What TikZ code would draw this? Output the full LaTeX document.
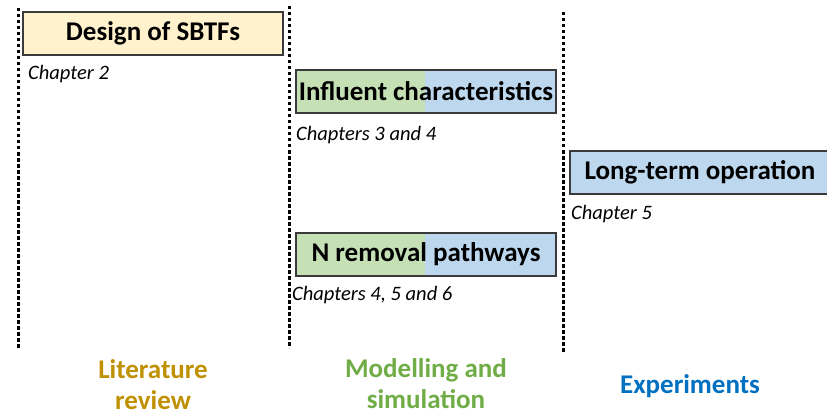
\documentclass[tikz,border=0pt]{standalone}
\usepackage{fontspec}
\setmainfont{Carlito}
\definecolor{yellowfill}{HTML}{FFF2CC}
\definecolor{greenfill}{HTML}{C5E0B4}
\definecolor{bluefill}{HTML}{BDD7EE}
\definecolor{boxline}{HTML}{3A3A3A}
\definecolor{goldtext}{HTML}{BF9000}
\definecolor{greentext}{HTML}{70AD47}
\definecolor{bluetext}{HTML}{0070C0}

\begin{document}
\begin{tikzpicture}[x=1pt, y=-1pt,
  box/.style = {draw=boxline, line width=1.3pt, minimum width=260pt, minimum height=43pt, inner sep=0pt, font=\fontsize{27}{32}\selectfont\bfseries},
  half/.style = {path picture={\fill[greenfill] (path picture bounding box.north west) rectangle ([xshift=#1]path picture bounding box.south west);}},
  chap/.style = {anchor=base west, inner sep=0pt, font=\fontsize{20.5}{24}\selectfont\itshape},
  area/.style = {align=center, font=\fontsize{27}{31}\selectfont\bfseries},
  sep/.style = {line width=3pt, dash pattern=on 3.5pt off 2.5pt}]
\useasboundingbox (0,0) rectangle (827,417);

% dotted separators
\coordinate (s1top) at (18,8);   \coordinate (s1bot) at (18,348);
\coordinate (s2top) at (289,6);  \coordinate (s2bot) at (289,348);
\coordinate (s3top) at (563,12); \coordinate (s3bot) at (563,352);
\draw[sep] (s1top) -- (s1bot);
\draw[sep] (s2top) -- (s2bot);
\draw[sep] (s3top) -- (s3bot);

% boxes
\node[box, fill=yellowfill] (design) at (153,33.5) {Design of SBTFs};
\node[box, fill=bluefill, half=129pt] (influent) at (426,91.5) {Influent characteristics};
\node[box, fill=bluefill] (longterm) at (700,172.5) {Long-term operation};
\node[box, fill=bluefill, half=129pt] (nremoval) at (426,254.5) {N removal pathways};

% chapters
\node[chap] (ch2) at (28,80) {Chapter 2};
\node[chap] (ch34) at (296,140) {Chapters 3 and 4};
\node[chap] (ch5) at (571,219) {Chapter 5};
\node[chap] (ch456) at (292,300) {Chapters 4, 5 and 6};

% areas
\node[area, text=goldtext] (lit) at (153,385) {Literature\\review};
\node[area, text=greentext] (model) at (426,384) {Modelling and\\simulation};
\node[area, text=bluetext] (exp) at (690,386) {Experiments};
\end{tikzpicture}
\end{document}
